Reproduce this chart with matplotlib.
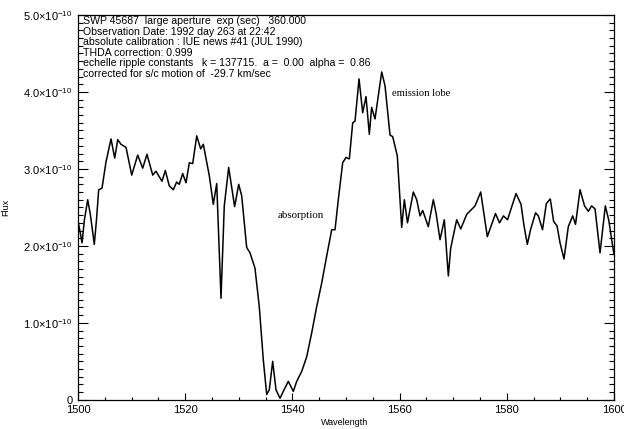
#Importing libraries
import matplotlib
matplotlib.use("Agg")
import matplotlib.pyplot as plt
from matplotlib.ticker import MultipleLocator, FuncFormatter
import numpy as np

plt.rcParams['font.family'] = ['Liberation Sans', 'DejaVu Sans']
plt.rcParams['mathtext.fontset'] = 'custom'
plt.rcParams['mathtext.rm'] = 'Liberation Sans'
plt.rcParams['mathtext.it'] = 'Liberation Sans'

#Spectrum (wavelength in Angstrom, flux in units of 1e-10)
wavelength = [1500.0, 1500.37, 1500.75, 1501.2, 1501.81, 1502.3, 1503.04, 1503.45, 1503.86, 1504.48,
              1505.22, 1506.16, 1506.85, 1507.41, 1508.02, 1508.96, 1510.02, 1511.14, 1512.07, 1512.87,
              1513.94, 1514.55, 1515.67, 1516.29, 1517.03, 1517.78, 1518.41, 1518.90, 1519.53, 1520.15,
              1520.77, 1521.40, 1522.15, 1522.89, 1523.38, 1524.50, 1525.24, 1525.88, 1526.68, 1527.29,
              1528.11, 1529.22, 1529.98, 1530.54, 1531.47, 1532.09, 1533.02, 1533.82, 1534.57, 1535.20,
              1535.69, 1536.32, 1536.94, 1537.69, 1538.43, 1539.24, 1540.17, 1540.80, 1541.74, 1542.67,
              1543.60, 1544.53, 1545.47, 1546.40, 1547.33, 1547.95, 1548.56, 1549.38, 1550.0, 1550.62,
              1551.25, 1551.68, 1552.43, 1553.11, 1553.73, 1554.35, 1554.78, 1555.41, 1556.66, 1557.28,
              1558.21, 1558.71, 1559.57, 1560.07, 1560.39, 1560.88, 1561.47, 1562.56, 1563.19, 1563.81,
              1564.31, 1565.35, 1566.29, 1566.79, 1567.54, 1568.34, 1569.09, 1569.53, 1570.65, 1571.40,
              1572.52, 1573.64, 1574.07, 1575.13, 1576.36, 1577.89, 1578.64, 1579.38, 1580.13, 1581.72,
              1582.65, 1583.21, 1583.83, 1584.42, 1585.36, 1585.88, 1586.66, 1587.37, 1588.11, 1588.73,
              1589.37, 1589.93, 1590.67, 1591.47, 1592.29, 1592.82, 1593.66, 1594.50, 1595.21, 1595.82,
              1596.46, 1597.39, 1598.38, 1599.03, 1599.63, 1600.0]
flux = [2.32, 2.19, 2.04, 2.34, 2.60, 2.41, 2.02, 2.34, 2.73, 2.75,
        3.09, 3.39, 3.14, 3.38, 3.32, 3.28, 2.92, 3.18, 3.01, 3.19,
        2.92, 2.97, 2.84, 2.98, 2.78, 2.73, 2.83, 2.80, 2.94, 2.82,
        3.08, 3.07, 3.43, 3.26, 3.32, 2.91, 2.54, 2.81, 1.32, 2.52,
        3.02, 2.51, 2.80, 2.65, 1.98, 1.91, 1.71, 1.21, 0.52, 0.07,
        0.13, 0.50, 0.13, 0.02, 0.13, 0.24, 0.11, 0.24, 0.37, 0.56,
        0.87, 1.21, 1.52, 1.87, 2.21, 2.21, 2.60, 3.08, 3.15, 3.13,
        3.60, 3.62, 4.17, 3.73, 3.94, 3.45, 3.80, 3.65, 4.26, 4.08,
        3.44, 3.42, 3.17, 2.60, 2.24, 2.60, 2.30, 2.70, 2.60, 2.39,
        2.46, 2.25, 2.60, 2.43, 2.08, 2.34, 1.61, 1.97, 2.34, 2.22,
        2.41, 2.49, 2.52, 2.70, 2.12, 2.42, 2.30, 2.39, 2.34, 2.68,
        2.54, 2.26, 2.02, 2.21, 2.43, 2.39, 2.21, 2.55, 2.61, 2.32,
        2.26, 2.04, 1.83, 2.25, 2.39, 2.28, 2.73, 2.52, 2.45, 2.52,
        2.48, 1.91, 2.52, 2.33, 2.05, 1.89]

#Header lines printed inside the plot
header = ["SWP 45687  large aperture  exp (sec)   360.000",
          "Observation Date: 1992 day 263 at 22:42",
          "absolute calibration : IUE news #41 (JUL 1990)",
          "THDA correction: 0.999",
          "echelle ripple constants   k = 137715.  a =  0.00  alpha =  0.86",
          "corrected for s/c motion of  -29.7 km/sec"]

fig = plt.figure(figsize=(6.24, 4.29), dpi=100)
ax = fig.add_axes([0.125, 0.068, 0.859, 0.897])

ax.plot(wavelength, flux, color="black", linewidth=1.1, solid_joinstyle="round")

ax.set_xlim(1500, 1600)
ax.set_ylim(0, 5)

#Ticks pointing in, like the IDL plot
ax.xaxis.set_major_locator(MultipleLocator(20))
ax.xaxis.set_minor_locator(MultipleLocator(5))
ax.yaxis.set_major_locator(MultipleLocator(1))
ax.yaxis.set_minor_locator(MultipleLocator(0.1))
ax.tick_params(axis="x", which="major", direction="in", length=5, width=0.8, labelsize=8, pad=4)
ax.tick_params(axis="x", which="minor", direction="in", length=2.5, width=0.8)
ax.tick_params(axis="y", which="major", direction="in", length=7, width=0.8, right=True, labelsize=8, pad=4)
ax.tick_params(axis="y", which="minor", direction="in", length=3.5, width=0.8, right=True)


def flux_label(v, pos):
    if abs(v) < 1e-9:
        return "0"
    return "%.1f\u00d710$^{-10}$" % v


ax.yaxis.set_major_formatter(FuncFormatter(flux_label))
for s in ax.spines.values():
    s.set_linewidth(0.9)

ax.set_xlabel("Wavelength", fontsize=6.5)
ax.set_ylabel("Flux", fontsize=6.5)
ax.xaxis.set_label_coords(0.498, -0.048)
ax.yaxis.set_label_coords(-0.127, 0.5)

#Header block
for i, line in enumerate(header):
    ax.text(0.009, 0.997 - i * 0.0275, line, transform=ax.transAxes, fontsize=7.6,
            va="top", ha="left", color="black")

#Annotations in serif type
ax.text(1541.5, 2.4, "absorption", fontsize=7.8, family="Liberation Serif", ha="center", va="center")
ax.text(1564.0, 3.98, "emission lobe", fontsize=7.6, family="Liberation Serif", ha="center", va="center")

plt.savefig("out.png", dpi=100)
